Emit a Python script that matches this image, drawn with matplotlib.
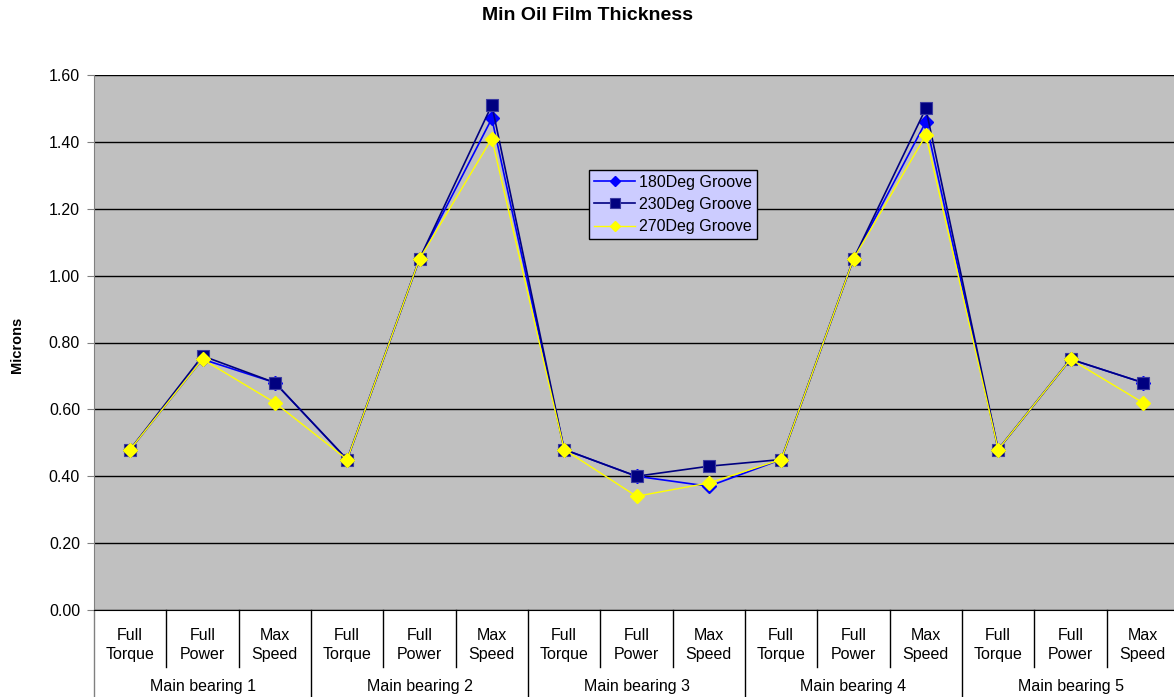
import matplotlib.pyplot as plt
import numpy as np

# 条件とベアリング
conditions = ['Full\nTorque', 'Full\nPower', 'Max\nSpeed']
bearings = ['Main bearing 1', 'Main bearing 2', 'Main bearing 3', 'Main bearing 4', 'Main bearing 5']

# 最小油膜厚さ（ミクロン）
groove_180 = [0.48, 0.75, 0.68, 0.45, 1.05, 1.47, 0.48, 0.40, 0.37, 0.45, 1.05, 1.46, 0.48, 0.75, 0.68]
groove_230 = [0.48, 0.76, 0.68, 0.45, 1.05, 1.51, 0.48, 0.40, 0.43, 0.45, 1.05, 1.50, 0.48, 0.75, 0.68]
groove_270 = [0.48, 0.75, 0.62, 0.45, 1.05, 1.41, 0.48, 0.34, 0.38, 0.45, 1.05, 1.42, 0.48, 0.75, 0.62]

plt.rcParams['font.family'] = ['Liberation Sans', 'DejaVu Sans']
fs = 11.5

W = 1085  # プロット領域の幅（px、右端は少しはみ出す）
fig = plt.figure(figsize=(11.74, 6.97), dpi=100)
ax = fig.add_axes([94 / 1174, 87 / 697, W / 1174, 535 / 697])
ax.set_facecolor('#C0C0C0')

x = np.arange(len(groove_180))
ax.plot(x, groove_180, color='#0000FF', lw=1.2, marker='D', ms=7, label='180Deg Groove', zorder=3)
ax.plot(x, groove_230, color='#000080', lw=1.2, marker='s', ms=8.5, mec='#3a3aa0', mew=0.8,
        label='230Deg Groove', zorder=4)
ax.plot(x, groove_270, color='#FFFF00', lw=1.0, marker='D', ms=7, label='270Deg Groove', zorder=5)

# 軸の設定
ax.set_xlim(-0.5, len(x) - 0.5)
ax.set_ylim(0, 1.6)
ax.set_yticks(np.arange(0, 1.61, 0.2))
ax.set_yticklabels(['%.2f' % v for v in np.arange(0, 1.61, 0.2)], fontsize=fs)
ax.yaxis.grid(True, color='black', lw=1)
ax.set_axisbelow(True)
ax.tick_params(axis='y', length=5, color='#808080', pad=5)
ax.set_xticks([])
for s in ['top', 'right']:
    ax.spines[s].set_visible(False)
ax.spines['left'].set_color('#808080')
ax.spines['bottom'].set_color('black')

# 2段のカテゴリ軸
tr = ax.get_xaxis_transform()
inner_bot = -57 / 535
outer_bot = -87 / 535
for i in range(len(x) + 1):
    if i % 3 == 0:
        ax.plot([i - 0.5, i - 0.5], [0, outer_bot], transform=tr, color='#808080' if i == 0 else 'black',
                lw=1, clip_on=False)
    else:
        ax.plot([i - 0.5, i - 0.5], [0, inner_bot], transform=tr, color='black', lw=1, clip_on=False)
for i in range(len(x)):
    ax.text(i, -35 / 535, conditions[i % 3], transform=tr, ha='center', va='center',
            fontsize=fs, linespacing=1.3)
for j, b in enumerate(bearings):
    ax.text(3 * j + 1, -76 / 535, b, transform=tr, ha='center', va='center', fontsize=fs)

fig.text(17 / 1174, 1 - 345 / 697, 'Microns', rotation=90, ha='center', va='center',
         fontsize=10.5, fontweight='bold')
fig.text(0.5, 1 - 15 / 697, 'Min Oil Film Thickness', ha='center', va='center',
         fontsize=14, fontweight='bold')

leg = ax.legend(loc='upper left', bbox_to_anchor=((589 - 94) / W, (610 - 170) / 535),
                fontsize=fs, frameon=True, fancybox=False, framealpha=1,
                borderpad=0.3, labelspacing=0.45, handlelength=2.6, handletextpad=0.25,
                borderaxespad=0, markerscale=0.8)
leg.get_frame().set_facecolor('#CCCCFF')
leg.get_frame().set_edgecolor('black')
leg.get_frame().set_linewidth(1)

plt.savefig('out.png', dpi=100)
